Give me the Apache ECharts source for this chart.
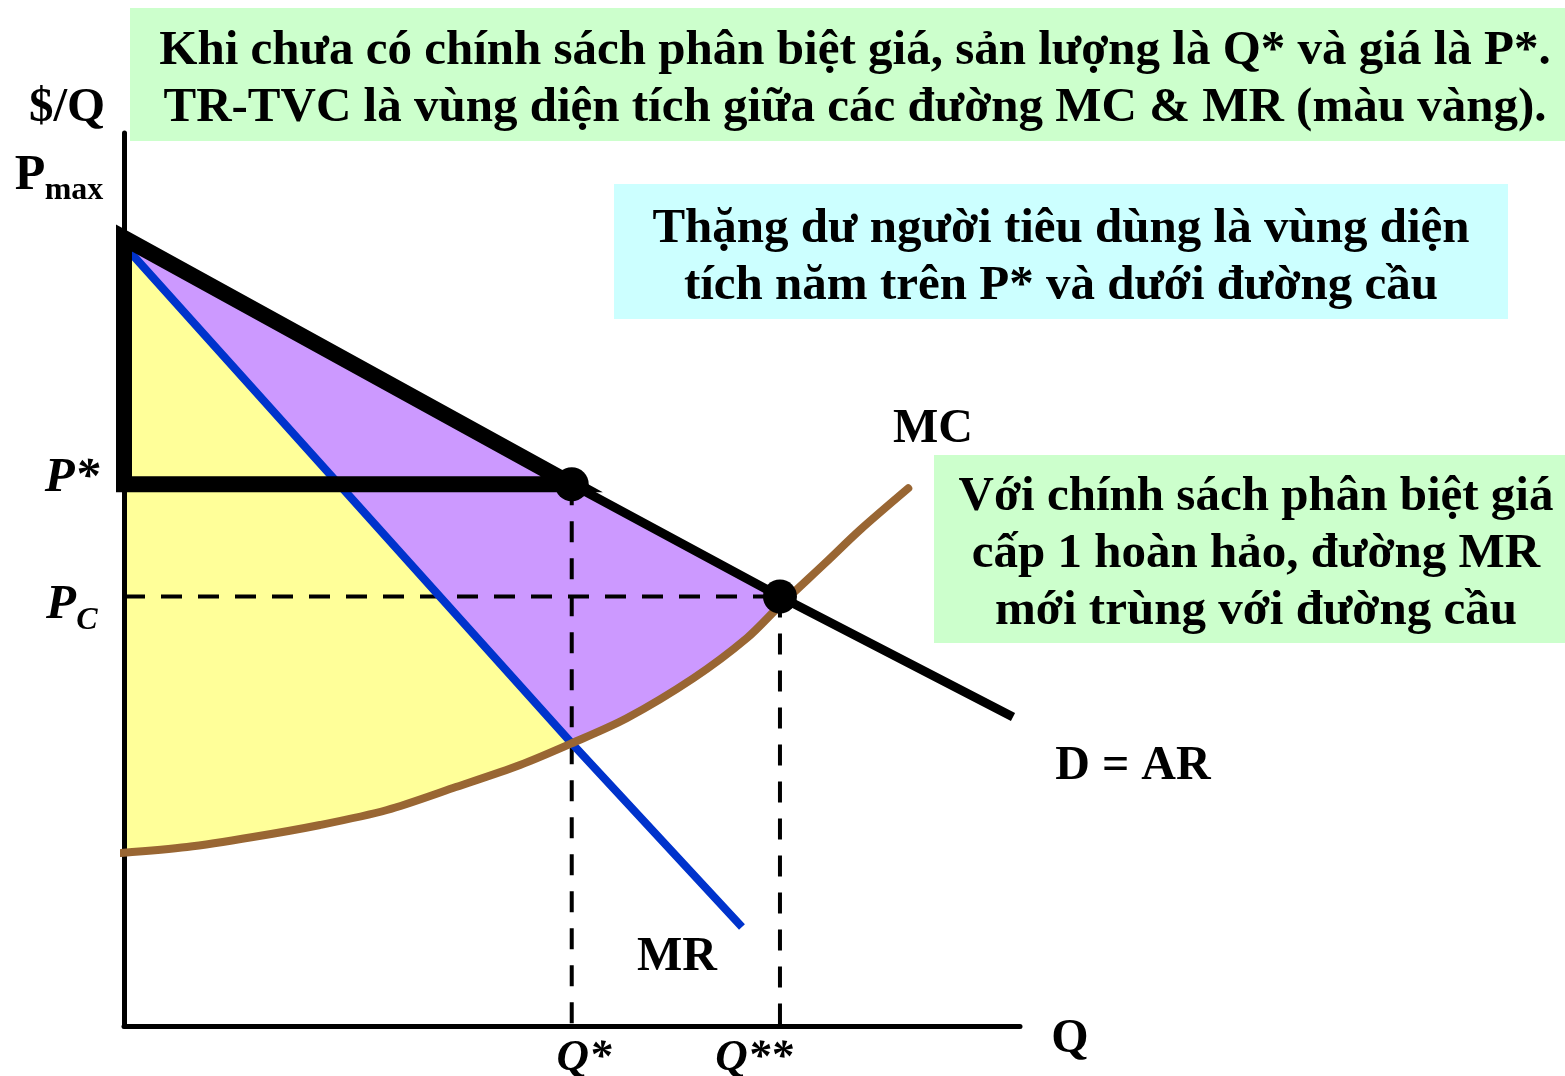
<!DOCTYPE html>
<html>
<head>
<meta charset="utf-8">
<title>Phân biệt giá cấp 1</title>
<script src="https://cdn.jsdelivr.net/npm/echarts@6.0.0/dist/echarts.min.js"></script>
<style>
  html, body { margin: 0; padding: 0; background: #fff; }
  #chart { width: 1565px; height: 1076px; }
</style>
</head>
<body>
<div id="chart"></div>
<script>
// số liệu (Q: 0..100, P: 0..100)
const demandQ = [0, 49.97, 73.21, 99.22];
const demandP = [88.24, 60.66, 48.10, 34.60];
const mrQ = [0.67, 49.97, 68.97];
const mrP = [86.67, 31.66, 11.09];
const mcQ = [-0.33, 7.03, 14.40, 21.88, 29.35, 36.72, 44.20, 49.97, 56.10, 63.54, 69.50, 73.21, 78.43, 82.14, 87.53];
const mcP = [19.37, 20.04, 21.16, 22.51, 24.19, 26.65, 29.23, 31.66, 34.46, 38.94, 43.42, 47.09, 52.00, 55.54, 60.21];
const qStar = 49.97, pStar = 60.66;
const qStar2 = 73.21, pComp = 48.10;
const pMax = 88.24;

const topNote = [
  "Khi chưa có chính sách phân biệt giá, sản lượng là Q* và giá là P*.",
  "TR-TVC là vùng diện tích giữa các đường MC & MR (màu vàng)."
];
const csNote = [
  "Thặng dư người tiêu dùng là vùng diện",
  "tích năm trên P* và dưới đường cầu"
];
const pdNote = [
  "Với chính sách phân biệt giá",
  "cấp 1 hoàn hảo, đường MR",
  "mới trùng với đường cầu"
];

const FONT = '"Liberation Serif", "Times New Roman", "DejaVu Serif", serif';

function pairs(xs, ys) {
  return xs.map(function (x, i) { return [x, ys[i]]; });
}

const demandData = pairs(demandQ, demandP);
const mrData = pairs(mrQ, mrP);
const mcData = pairs(mcQ, mcP);
const iStar = mcQ.indexOf(qStar);
const iStar2 = mcQ.indexOf(qStar2);

// vùng vàng: giữa MR và MC, từ 0 đến Q*
const yellowArea = [[0, pMax]]
  .concat(mrData.slice(0, 2))
  .concat(mcData.slice(0, iStar + 1).reverse())
  .concat([[0, mcP[0]]]);
// vùng tím: dưới đường cầu, trên MR / MC, từ 0 đến Q**
const purpleArea = demandData.slice(0, 3)
  .concat(mcData.slice(iStar, iStar2 + 1).reverse())
  .concat(mrData.slice(0, 2).reverse());
const csTriangle = [[0, pMax], [0, pStar], [qStar, pStar]];

function polygonSeries(points, style, z) {
  return {
    type: "custom",
    z: z,
    silent: true,
    clip: false,
    data: [[0, 0]],
    renderItem: function (params, api) {
      return {
        type: "polygon",
        shape: { points: points.map(function (p) { return api.coord(p); }) },
        style: style
      };
    }
  };
}

function dashSeries(data) {
  return {
    type: "line",
    z: 3,
    silent: true,
    showSymbol: false,
    data: data,
    lineStyle: { color: "#000", width: 4, type: [21, 16] }
  };
}

function text(str, x, y, size, opts) {
  opts = opts || {};
  return {
    type: "text",
    x: x,
    y: y,
    style: {
      text: str,
      fill: "#000",
      font: (opts.italic ? "italic " : "") + "bold " + size + "px " + FONT,
      align: opts.align || "center",
      verticalAlign: "middle"
    }
  };
}

function noteBox(x, y, w, h, color, lines, cx, cy0, lh, size) {
  const els = [{ type: "rect", shape: { x: x, y: y, width: w, height: h }, style: { fill: color } }];
  lines.forEach(function (l, i) {
    els.push(text(l, cx, cy0 + i * lh, size));
  });
  return els;
}

const chart = echarts.init(document.getElementById("chart"));
const axisCommon = {
  type: "value",
  min: 0,
  max: 100,
  z: 1,
  axisLine: { show: true, onZero: false, lineStyle: { color: "#000", width: 5 } },
  axisTick: { show: false },
  axisLabel: { show: false },
  splitLine: { show: false }
};

let option = {
  backgroundColor: "#fff",
  animation: false,
  grid: { left: 124, top: 133, width: 896, height: 893 },
  xAxis: axisCommon,
  yAxis: axisCommon,
  series: [
    polygonSeries(yellowArea, { fill: "#FFFF99" }, 0),
    polygonSeries(purpleArea, { fill: "#CC99FF" }, 0),
    dashSeries([[qStar, pStar], [qStar, 0]]),
    dashSeries([[qStar2, pComp], [qStar2, 0]]),
    dashSeries([[0, pComp], [qStar2, pComp]]),
    {
      name: "MR", type: "line", z: 4, silent: true, showSymbol: false, clip: false,
      data: mrData,
      lineStyle: { color: "#0033CC", width: 8 }
    },
    {
      name: "MC", type: "line", z: 5, silent: true, showSymbol: false, clip: false,
      smooth: 0.3,
      data: mcData,
      lineStyle: { color: "#996633", width: 8, cap: "round" }
    },
    {
      name: "D = AR", type: "line", z: 6, silent: true, showSymbol: false, clip: false,
      data: demandData,
      lineStyle: { color: "#000", width: 9 }
    },
    polygonSeries(csTriangle, { fill: "none", stroke: "#000", lineWidth: 16, lineJoin: "miter" }, 7),
    {
      type: "scatter", z: 8, silent: true,
      symbolSize: 34,
      itemStyle: { color: "#000", opacity: 1 },
      data: [[qStar, pStar], [qStar2, pComp]]
    }
  ],
  graphic: [].concat(
    noteBox(130, 8, 1435, 133, "#CCFFCC", topNote, 855, 51, 57, 49),
    noteBox(614, 184, 894, 135, "#CCFFFF", csNote, 1061, 229, 57, 49),
    noteBox(934, 455, 631, 188, "#CCFFCC", pdNote, 1256, 497, 57, 49),
    [
      text("$/Q", 67, 108, 49),
      text("P", 30, 176, 50),
      text("max", 74, 191, 32),
      text("P*", 72, 478, 49, { italic: true }),
      text("P", 61, 605, 49, { italic: true }),
      text("C", 87, 621, 32, { italic: true }),
      text("MC", 933, 430, 48),
      text("D = AR", 1133, 767, 48),
      text("MR", 677, 958, 48),
      text("Q", 1070, 1040, 48),
      text("Q*", 584, 1058, 45, { italic: true }),
      text("Q**", 754, 1058, 45, { italic: true })
    ]
  )
};

chart.setOption(option);
</script>
</body>
</html>
